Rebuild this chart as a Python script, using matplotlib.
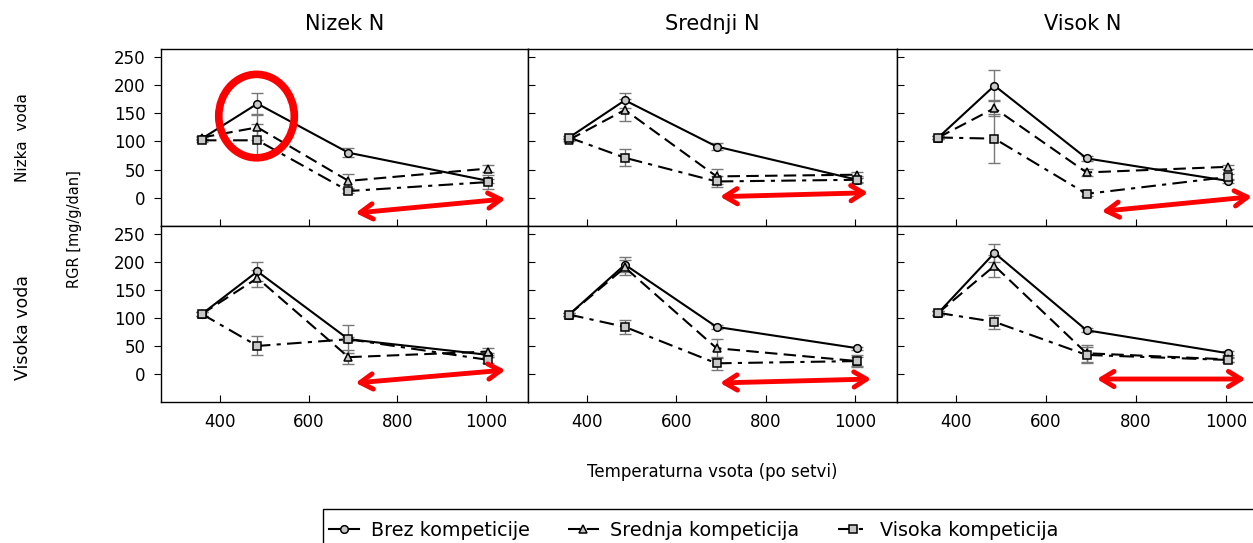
import matplotlib
matplotlib.use("Agg")
import matplotlib.pyplot as plt
from matplotlib.patches import Ellipse, Rectangle

plt.rcParams['font.family'] = ['DejaVu Sans']

temp = [360, 485, 690, 1005]
stolpci = ["Nizek N", "Srednji N", "Visok N"]
vrstice = ["Nizka  voda", "Visoka voda"]
serije = ["Brez kompeticije", "Srednja kompeticija", "Visoka kompeticija"]

# RGR, one list per N level (Nizek, Srednji, Visok)
brez_nizka = [[105, 167, 80, 30], [107, 173, 91, 32], [107, 199, 70, 30]]
sred_nizka = [[107, 125, 30, 52], [103, 156, 38, 41], [107, 159, 45, 55]]
vis_nizka = [[102, 102, 12, 28], [107, 71, 29, 32], [107, 105, 7, 37]]
brez_visoka = [[107, 183, 62, 34], [106, 195, 84, 46], [109, 216, 78, 37]]
sred_visoka = [[107, 171, 30, 40], [106, 190, 46, 23], [109, 193, 37, 26]]
vis_visoka = [[107, 50, 62, 25], [106, 84, 19, 23], [109, 93, 34, 25]]

# standard errors
brez_nizka_se = [[3, 19, 8, 4], [3, 13, 7, 4], [3, 28, 4, 4]]
sred_nizka_se = [[3, 22, 13, 6], [3, 20, 13, 5], [3, 14, 6, 4]]
vis_nizka_se = [[3, 29, 4, 12], [3, 15, 10, 6], [3, 44, 4, 6]]
brez_visoka_se = [[3, 17, 4, 4], [3, 13, 4, 3], [3, 16, 4, 4]]
sred_visoka_se = [[3, 15, 13, 6], [3, 13, 17, 8], [3, 20, 15, 4]]
vis_visoka_se = [[3, 17, 25, 5], [3, 12, 12, 10], [3, 13, 15, 4]]

# red double arrows (start, end) per panel
puscice_nizka = [((706, -27), (1043, -2)), ((698, 2), (1029, 9)), ((724, -24), (1058, 2))]
puscice_visoka = [((706, -16), (1043, 7)), ((698, -16), (1036, -9)), ((713, -9), (1044, -9))]

podatki = [
    (brez_nizka, sred_nizka, vis_nizka, brez_nizka_se, sred_nizka_se, vis_nizka_se, puscice_nizka),
    (brez_visoka, sred_visoka, vis_visoka, brez_visoka_se, sred_visoka_se, vis_visoka_se, puscice_visoka),
]

stili = [
    dict(linestyle='-', marker='o'),
    dict(linestyle=(0, (6, 3)), marker='^'),
    dict(linestyle=(0, (7, 3, 2, 3)), marker='s'),
]

W, H = 1253, 543
fig = plt.figure(figsize=(W / 100, H / 100), dpi=100)

lefts = [161, 528, 897]
widths = [367, 369, 371]
tops = [49, 226]
heights = [177, 176]

handles = []
for r in range(2):
    b, s, v, bse, sse, vse, puscice = podatki[r]
    for c in range(3):
        ax = fig.add_axes([lefts[c] / W, 1 - (tops[r] + heights[r]) / H,
                           widths[c] / W, heights[r] / H])
        for k, (y, e) in enumerate([(b[c], bse[c]), (s[c], sse[c]), (v[c], vse[c])]):
            ax.errorbar(temp, y, yerr=e, fmt='none', ecolor='#777777',
                        elinewidth=1, capsize=4, capthick=1, zorder=2)
            ln, = ax.plot(temp, y, color='black', lw=1.5, markersize=5.5,
                          markerfacecolor='#c8c8c8', markeredgecolor='black',
                          markeredgewidth=1.1, label=serije[k], zorder=3,
                          **stili[k])
            if r == 0 and c == 0:
                handles.append(ln)
        ax.set_xlim(268, 1094)
        ax.set_ylim(-50, 264)
        ax.set_yticks([0, 50, 100, 150, 200, 250])
        ax.set_xticks([400, 600, 800, 1000])
        for sp in ax.spines.values():
            sp.set_linewidth(1.0)
        ax.tick_params(axis='x', direction='in', length=5, labelsize=12, pad=8)
        if c == 0:
            ax.tick_params(axis='y', direction='out', length=5, labelsize=12, pad=6)
        else:
            ax.tick_params(axis='y', direction='in', length=5, labelleft=False)
        if r == 0:
            ax.tick_params(axis='x', labelbottom=False)
            ax.set_title(stolpci[c], fontsize=15, pad=14)
        (x0, y0), (x1, y1) = puscice[c]
        ax.annotate('', xy=(x1, y1), xytext=(x0, y0),
                    arrowprops=dict(arrowstyle='<->,head_length=0.9,head_width=0.55',
                                    color='#ff0000', lw=3.5, shrinkA=0, shrinkB=0),
                    annotation_clip=False, zorder=5)
        if r == 0 and c == 0:
            ax.add_patch(Ellipse((483, 145), 170, 148, fill=False,
                                 edgecolor='#ff0000', lw=5.5, zorder=6, clip_on=False))

fig.text(23 / W, 1 - 138 / H, vrstice[0], rotation=90, ha='center', va='center', fontsize=11)
fig.text(23 / W, 1 - 328 / H, vrstice[1], rotation=90, ha='center', va='center', fontsize=12.5)
fig.text(75 / W, 1 - 229 / H, "RGR [mg/g/dan]", rotation=90, ha='center', va='center', fontsize=10.5)
fig.text(712 / W, 1 - 472 / H, "Temperaturna vsota (po setvi)", ha='center', va='center', fontsize=12)

# legend box runs past the right and bottom edges
fig.patches.append(Rectangle((323 / W, 1 - 570 / H), 960 / W, 61 / H,
                             transform=fig.transFigure, fill=False,
                             edgecolor='black', lw=1.0))
leg = fig.legend(handles=handles, loc='center left', bbox_to_anchor=(323 / W, 1 - 530 / H),
                 borderaxespad=0, ncol=3, fontsize=13.8, frameon=False,
                 handlelength=1.6, handletextpad=0.6, columnspacing=2.0, borderpad=0.3)

fig.savefig("out.png", dpi=100)
